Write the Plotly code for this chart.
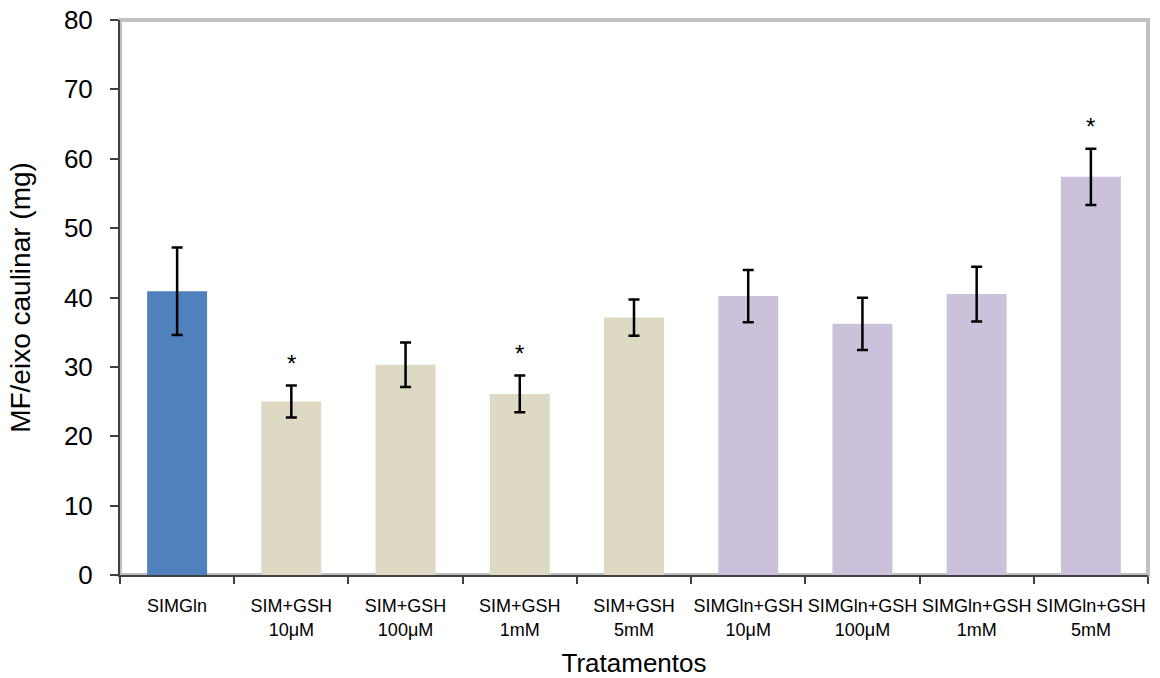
import plotly.graph_objects as go

# Treatments and measured shoot fresh mass (mg) with error
categories = [
    "SIMGln",
    "SIM+GSH<br>10μM",
    "SIM+GSH<br>100μM",
    "SIM+GSH<br>1mM",
    "SIM+GSH<br>5mM",
    "SIMGln+GSH<br>10μM",
    "SIMGln+GSH<br>100μM",
    "SIMGln+GSH<br>1mM",
    "SIMGln+GSH<br>5mM",
]
values = [40.9, 25.0, 30.3, 26.1, 37.1, 40.2, 36.2, 40.5, 57.4]
errors = [6.3, 2.3, 3.2, 2.65, 2.6, 3.75, 3.75, 3.95, 4.05]
significant = [False, True, False, True, False, False, False, False, True]

BLUE = "#4F81BD"
BEIGE = "#DDD9C3"
LAVENDER = "#CCC1DA"
bar_colors = [BLUE] + [BEIGE] * 4 + [LAVENDER] * 4

FONT = "Liberation Sans, Arial, sans-serif"

fig = go.Figure()
fig.add_trace(
    go.Bar(
        x=categories,
        y=values,
        marker=dict(color=bar_colors, line=dict(width=0)),
        error_y=dict(
            type="data",
            array=errors,
            visible=True,
            color="black",
            thickness=2.5,
            width=5.5,
        ),
        showlegend=False,
    )
)

# Significance markers above the error bars
for cat, v, e, sig in zip(categories, values, errors, significant):
    if sig:
        fig.add_annotation(
            x=cat,
            y=v + e,
            text="*",
            showarrow=False,
            yanchor="middle",
            yshift=22,
            font=dict(family=FONT, size=24, color="black"),
        )

# Grey frame around the plotting area
fig.add_shape(
    type="rect",
    xref="paper",
    yref="paper",
    x0=0,
    x1=1,
    y0=0,
    y1=1,
    line=dict(color="#c0c0c0", width=4),
    layer="below",
)

fig.update_layout(
    width=1160,
    height=678,
    margin=dict(l=120, r=12, t=20, b=103),
    paper_bgcolor="white",
    plot_bgcolor="white",
    bargap=0.475,
    font=dict(family=FONT, color="black"),
    xaxis=dict(
        type="category",
        tickson="boundaries",
        ticks="outside",
        ticklen=7,
        tickwidth=1.5,
        tickcolor="#404040",
        showline=True,
        linecolor="#404040",
        linewidth=1.5,
        showgrid=False,
        tickangle=0,
        automargin=False,
        ticklabelstandoff=14,
        tickfont=dict(family=FONT, size=18, color="black"),
        title=dict(
            text="Tratamentos",
            font=dict(family=FONT, size=26, color="black"),
            standoff=17,
        ),
    ),
    yaxis=dict(
        range=[0, 80],
        tickvals=[0, 10, 20, 30, 40, 50, 60, 70, 80],
        ticks="outside",
        ticklen=8,
        tickwidth=1.5,
        tickcolor="#404040",
        showline=True,
        linecolor="#404040",
        linewidth=2,
        showgrid=False,
        zeroline=False,
        automargin=False,
        ticklabelstandoff=12,
        tickfont=dict(family=FONT, size=26, color="black"),
        title=dict(
            text="MF/eixo caulinar (mg)",
            font=dict(family=FONT, size=28, color="black"),
            standoff=25,
        ),
    ),
)

fig.write_html("out.html")
